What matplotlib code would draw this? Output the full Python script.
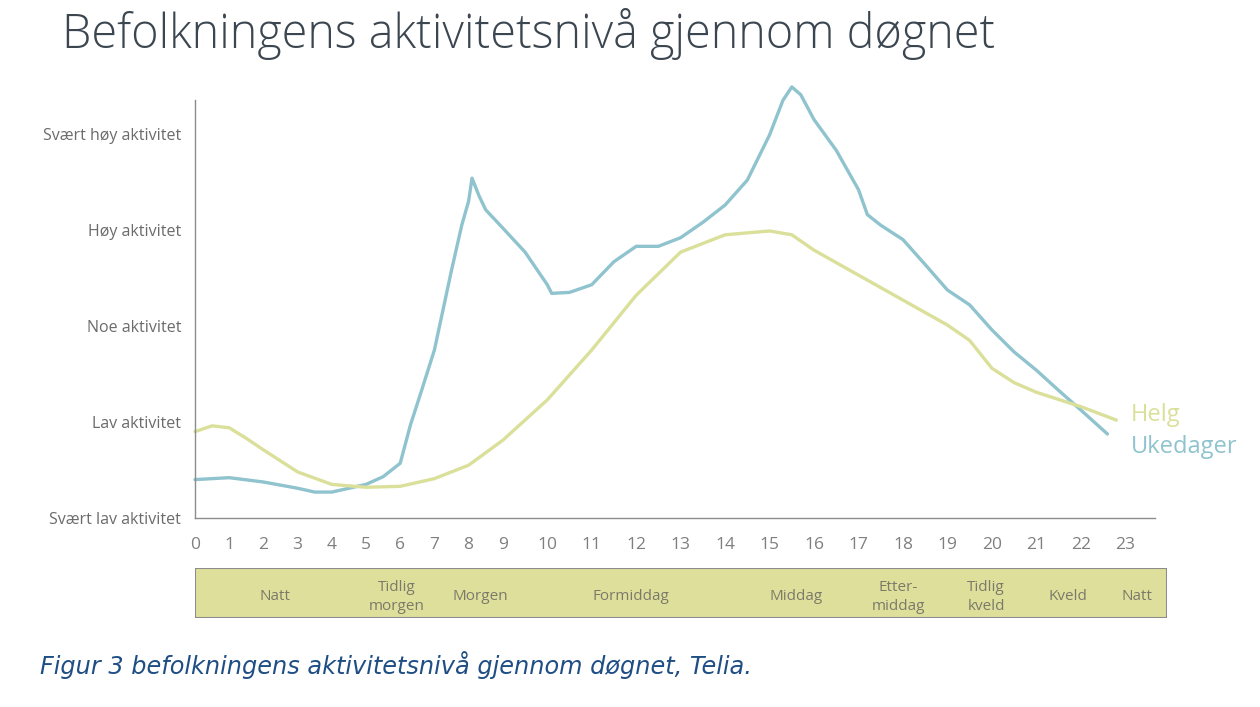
import numpy as np
import matplotlib.pyplot as plt
from matplotlib.patches import Rectangle

# Activity level: 0 = Svært lav ... 4 = Svært høy
level_labels = ["Svært lav aktivitet", "Lav aktivitet", "Noe aktivitet",
                "Høy aktivitet", "Svært høy aktivitet"]
hours = list(range(24))

# Ukedager (weekdays)
week_h = [0, 1, 2, 3, 3.5, 4, 5, 5.5, 6, 6.3, 6.6, 7, 7.5, 7.8, 8, 8.1, 8.3, 8.5,
          9, 9.5, 10, 10.1, 10.5, 11, 11.5, 12, 12.5, 13, 13.5, 14, 14.5, 15,
          15.3, 15.5, 15.7, 16, 16.5, 17, 17.2, 17.5, 18, 18.5, 19, 19.5, 20,
          20.5, 21, 21.5, 22, 22.6]
week_v = [0.40, 0.42, 0.375, 0.31, 0.27, 0.27, 0.35, 0.43, 0.57, 0.97, 1.3, 1.75,
          2.58, 3.05, 3.30, 3.54, 3.36, 3.21, 3.02, 2.77, 2.43, 2.34, 2.35, 2.43,
          2.67, 2.83, 2.83, 2.92, 3.08, 3.26, 3.52, 3.99, 4.35, 4.49, 4.41, 4.15,
          3.83, 3.42, 3.16, 3.05, 2.90, 2.64, 2.375, 2.22, 1.96, 1.73, 1.54,
          1.33, 1.125, 0.875]

# Helg (weekend)
wknd_h = [0, 0.5, 1, 1.5, 2, 3, 4, 5, 6, 7, 8, 9, 10, 11, 12, 13, 14, 15, 15.5,
          16, 17, 18, 19, 19.5, 20, 20.5, 21, 22, 22.8]
wknd_v = [0.90, 0.96, 0.94, 0.83, 0.71, 0.48, 0.35, 0.32, 0.33, 0.41, 0.55,
          0.81, 1.23, 1.75, 2.32, 2.77, 2.95, 2.99, 2.95, 2.79, 2.53, 2.27,
          2.01, 1.85, 1.56, 1.41, 1.31, 1.16, 1.02]

periods = ["Natt", "Tidlig\nmorgen", "Morgen", "Formiddag", "Middag",
           "Etter-\nmiddag", "Tidlig\nkveld", "Kveld", "Natt"]
period_centers = [2.35, 5.9, 8.35, 11.88, 15.6, 17.9, 19.87, 21.7, 23.26]

BLUE = "#8fc3ce"
YELLOW = "#dae09a"
GRAY = "#7f7f7f"


def warp(h):
    # the original axis is wider per hour after 9 o'clock
    h = np.asarray(h, dtype=float)
    return np.where(h <= 9, h, 9 + (h - 9) * 1.3)


fig = plt.figure(figsize=(12.6, 7.07), dpi=100)
W, H = 1260, 707

ax = fig.add_axes([195 / W, 1 - 518 / H, 960 / W, 418 / H])
x_max = 28.07
ax.set_xlim(0, x_max)
ax.set_ylim(0, 418 / 96)

ax.plot(warp(week_h), week_v, color=BLUE, lw=2.4, clip_on=False,
        solid_joinstyle="round", solid_capstyle="round")
ax.plot(warp(wknd_h), wknd_v, color=YELLOW, lw=2.4, clip_on=False,
        solid_joinstyle="round", solid_capstyle="round")

ax.text(warp(23) + 0.15, 1.07, "Helg", color=YELLOW, fontsize=17,
        family="Open Sans", va="center", ha="left")
ax.text(warp(23) + 0.15, 0.74, "Ukedager", color=BLUE, fontsize=17,
        family="Open Sans", va="center", ha="left")

for s in ["top", "right"]:
    ax.spines[s].set_visible(False)
for s in ["left", "bottom"]:
    ax.spines[s].set_color("#8c8c8c")
    ax.spines[s].set_linewidth(1.0)

ax.set_yticks(range(5))
ax.set_yticklabels(level_labels, family="Open Sans", fontsize=11.5, color="#6b6b6b")
ax.set_xticks(warp(hours))
ax.set_xticklabels([str(h) for h in hours], family="Open Sans", fontsize=12.5,
                   color=GRAY)
ax.tick_params(length=0)
ax.tick_params(axis="x", pad=14)
ax.tick_params(axis="y", pad=10)

# period band under the axis
band = fig.add_axes([195 / W, 1 - 618 / H, 972 / W, 50 / H])
band.set_xlim(0, x_max * 972 / 960)
band.set_ylim(0, 1)
band.axis("off")
band.add_patch(Rectangle((0, 0), 1, 1, transform=band.transAxes,
                         facecolor="#dfdf9c", edgecolor="#8c8c8c", lw=1.5))
for name, c in zip(periods, period_centers):
    band.text(warp(c), 0.42, name, ha="center", va="center", fontsize=11,
              family="Open Sans", color="#7a7a6a", linespacing=1.3)

fig.text(62 / W, 1 - 34 / H, "Befolkningens aktivitetsnivå gjennom døgnet",
         family="Open Sans", fontweight="light", fontsize=33.7, color="#3b4650",
         va="center", ha="left")
fig.text(40 / W, 1 - 665 / H,
         "Figur 3 befolkningens aktivitetsnivå gjennom døgnet, Telia.",
         family="DejaVu Sans", style="italic", fontsize=17.3, color="#1f4e85",
         va="center", ha="left")

fig.savefig("out.png", dpi=100, facecolor="white")
